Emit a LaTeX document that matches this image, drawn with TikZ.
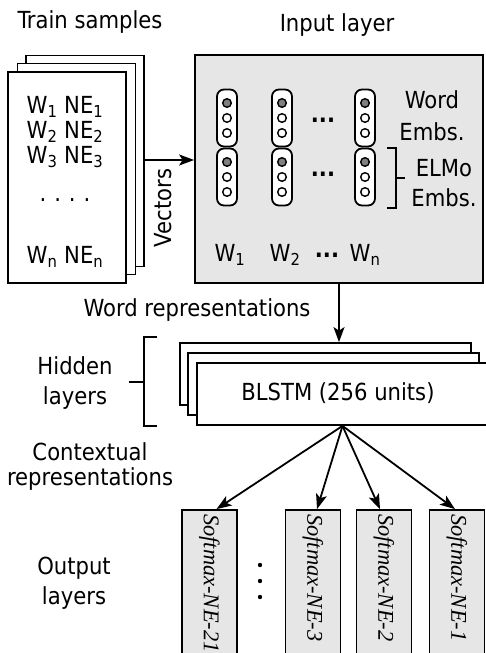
\documentclass[tikz,border=0pt]{standalone}
\usepackage{fontspec}
\setmainfont{DejaVu Sans Condensed}
\newfontfamily\smaxfont{Liberation Serif}
\usetikzlibrary{arrows.meta}

\definecolor{boxgray}{RGB}{230,230,230}
\definecolor{dotgray}{RGB}{128,128,128}

\begin{document}
\begin{tikzpicture}[x=1pt,y=-1pt,
    lbl/.style={font=\fontsize{23.5}{29}\selectfont, align=center, inner sep=0pt},
    page/.style={draw, line width=1.8pt, fill=white, minimum width=118pt, minimum height=211pt, inner sep=0pt},
    hidbox/.style={draw, line width=1.8pt, fill=white, minimum width=291pt, minimum height=62pt, inner sep=0pt},
    capsule/.style={draw, line width=1.8pt, fill=white, rounded corners=7pt, minimum width=20pt, minimum height=57pt, inner sep=0pt},
    outbox/.style={draw, line width=1.8pt, fill=boxgray, rotate=-90, minimum height=55pt, text width=142pt, inner xsep=4pt, align=left, font=\smaxfont\itshape\fontsize{22.5}{25}\selectfont},
    arr/.style={-{Stealth[length=15pt,width=11pt,inset=3.5pt]}, line width=1.8pt},
    brk/.style={line width=1.8pt}]

    \useasboundingbox (0,0) rectangle (486,653);

    % Train samples (stack of pages)
    \node[lbl] (trainlbl) at (90,22) {Train samples};
    \node[page] (back) at (85,161) {};
    \node[page] (mid) at (76.5,169) {};
    \node[page] (front) at (67,177.5) {};
    \node[lbl] (s1) at (65,107) {W\textsubscript{1} NE\textsubscript{1}};
    \node[lbl] (s2) at (65,132) {W\textsubscript{2} NE\textsubscript{2}};
    \node[lbl] (s3) at (65,157) {W\textsubscript{3} NE\textsubscript{3}};
    \node[lbl] (sdots) at (65,200) {.\hspace{8pt}.\hspace{8pt}.\hspace{8pt}.};
    \node[lbl] (sn) at (65,257) {W\textsubscript{n} NE\textsubscript{n}};

    % Input layer
    \node[lbl] (inputlbl) at (337,25) {Input layer};
    \node[draw, line width=1.8pt, fill=boxgray, minimum width=288pt, minimum height=228pt] (input) at (339,169) {};
    \draw[arr] (back.east |- 0,160) -- (input.west |- 0,160);
    \node[lbl, rotate=90] (vec) at (163,208) {Vectors};

    % Embedding vectors
    \foreach \x/\nm in {227/a, 282/b, 365/c} {
        \node[capsule] (word\nm) at (\x,118) {};
        \node[capsule] (elmo\nm) at (\x,177) {};
        \foreach \y in {103,162} \filldraw[fill=dotgray, line width=1.4pt] (\x,\y) circle (4.3pt);
        \foreach \y in {118,133,177,192} \filldraw[fill=white, line width=1.4pt] (\x,\y) circle (4.3pt);
    }
    \node[lbl, font=\bfseries\fontsize{23.5}{29}\selectfont] (wdots) at (323,120) {...};
    \node[lbl, font=\bfseries\fontsize{23.5}{29}\selectfont] (edots) at (323,174) {...};
    \node[lbl] (wordlbl) at (432,116) {Word\\[3pt]Embs.};
    \node[lbl] (elmolbl) at (444,183) {ELMo\\[1pt]Embs.};
    \draw[brk] (387,148) -- (396,148) -- (396,208) -- (387,208);
    \draw[brk] (396,178) -- (405,178);

    % Word labels
    \node[lbl] (w1) at (230,255) {W\textsubscript{1}};
    \node[lbl] (w2) at (285,255) {W\textsubscript{2}};
    \node[lbl, font=\bfseries\fontsize{23.5}{29}\selectfont] (wldots) at (327,255) {...};
    \node[lbl] (wn) at (365,255) {W\textsubscript{n}};

    % Hidden layers
    \node[lbl] (wrep) at (197,310) {Word representations};
    \node[hidbox] (hback) at (325.5,374) {};
    \node[hidbox] (hmid) at (333.5,384) {};
    \node[hidbox] (hfront) at (342.5,394) {};
    \node[lbl] (blstm) at (338,393) {BLSTM (256 units)};
    \draw[arr] (input.south) -- (input.south |- hback.north);
    \node[lbl] (hidlbl) at (75,383) {Hidden\\[1pt]layers};
    \draw[brk] (157,337) -- (144,337) -- (144,426) -- (157,426);
    \draw[brk] (144,382) -- (129,382);

    % Output layers
    \node[lbl] (ctxlbl) at (90,467) {Contextual\\[-4pt]representations};
    \node[lbl] (outlbl) at (74,583) {Output\\[1pt]layers};
    \node[outbox] (o21) at (209.5,585) {Softmax-NE-21};
    \node[outbox] (o3) at (313,585) {Softmax-NE-3};
    \node[outbox] (o2) at (384,585) {Softmax-NE-2};
    \node[outbox] (o1) at (457,585) {Softmax-NE-1};
    \foreach \y in {565,581,597} \fill (260,\y) circle (2.2pt);

    \draw[arr] (hfront.south) -- ([xshift=7pt]o21.west);
    \draw[arr] (hfront.south) -- ([xshift=4pt]o3.west);
    \draw[arr] (hfront.south) -- ([xshift=-4pt]o2.west);
    \draw[arr] (hfront.south) -- ([xshift=-2pt]o1.west);
\end{tikzpicture}
\end{document}
